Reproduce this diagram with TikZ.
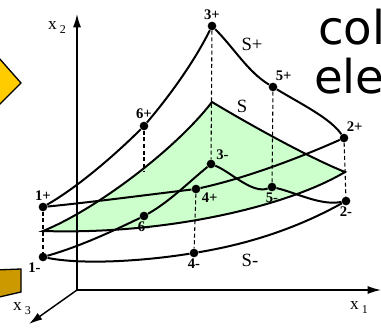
\documentclass[tikz,border=0pt]{standalone}
\usepackage{fontspec}
\setmainfont{Liberation Serif}
\newfontfamily\slidefont{DejaVu Sans}
\usetikzlibrary{arrows.meta}
\definecolor{Mint}{HTML}{CCFFCC}
\definecolor{Gold}{HTML}{FFCC00}
\definecolor{Ochre}{HTML}{CC9900}

\begin{document}
\begin{tikzpicture}[x=0.75pt, y=-0.75pt,
    dot/.style={circle, fill=black, inner sep=0pt, minimum size=6.5pt},
    num/.style={font=\fontsize{11}{11}\selectfont\bfseries, inner sep=1pt},
    surf/.style={font=\fontsize{14}{14}\selectfont, inner sep=0pt},
    axlab/.style={font=\fontsize{13}{13}\selectfont, inner sep=0pt},
    big/.style={font=\slidefont\fontsize{35}{35}\selectfont, anchor=base west, inner sep=0pt},
    axis/.style={-{Latex[length=10pt,width=6pt]}, line width=1.1pt},
    edge/.style={line width=1.5pt},
    guide/.style={line width=0.8pt, dash pattern=on 3pt off 2pt},
    every label/.style={num}
]
\clip (0,0) rectangle (381,328);

\filldraw[fill=Gold, line width=1pt] (21,83) -- (-9,49) -- (-40,83) -- (-9,113) -- cycle;
\filldraw[fill=Ochre, line width=1pt] (-5,270) -- (21,269) -- (21,292) -- (-5,298) -- cycle;
\node[big] (col) at (318,45) {col};
\node[big] (ele) at (314,93) {ele};

\coordinate (sL) at (43,231);
\coordinate (sT) at (212,102);
\coordinate (sR) at (345,172);
\coordinate (s6) at (144,172);
\draw[edge, fill=Mint] (sL) .. controls (95,210) and (175,150) .. (sT)
    .. controls +(40,24) and +(-35,-14) .. (sR)
    .. controls (290,205) and (170,235) .. (sL) -- cycle;

\coordinate (o) at (77,290);
\coordinate (t1) at (381,290);
\coordinate (t2) at (77,14);
\coordinate (t3) at (29,324);
\draw[axis] (o) -- (t1);
\draw[axis] (o) -- (t2);
\draw[axis] (o) -- (t3);
\node[axlab] (lx1) at (359,308) {x\,\raisebox{-3pt}{\small 1}};
\node[axlab] (lx2) at (57,28) {x\,\raisebox{-3pt}{\small 2}};
\node[axlab] (lx3) at (22,309) {x\,\raisebox{-3pt}{\small 3}};

\node[dot, label=above:3+] (p3p) at (212,26) {};
\node[dot, label=75:5+] (p5p) at (273,87) {};
\node[dot, label=75:2+] (p2p) at (344,138) {};
\node[dot, label={[yshift=1pt]above:6+}] (p6p) at (144,126) {};
\node[dot, label=above:1+] (p1p) at (43,207) {};
\node[dot, label=-100:1-] (p1m) at (43,257) {};
\node[dot, label=below:6-] (p6m) at (144,216) {};
\node[dot, label=-25:4+] (p4p) at (196,189) {};
\node[dot, label=35:3-] (p3m) at (211,164) {};
\node[dot, label=below:5-] (p5m) at (272,187) {};
\node[dot, label=below:2-] (p2m) at (346,201) {};
\node[dot, label=below:4-] (p4m) at (194,253) {};

\draw[guide] (p1p) -- (p1m);
\draw[guide] (p6p) -- (s6);
\draw[guide] (p3p) -- (p3m);
\draw[guide] (p5p) -- (p5m);
\draw[guide] (p2p) -- (p2m);
\draw[guide] (p4p) -- (p4m);

\draw[edge] (p1p) .. controls +(35,-20) and +(-28,28) .. (p6p)
    .. controls +(22,-26) and +(-20,40) .. (p3p);
\draw[edge] (p3p) .. controls +(22,22) and +(-25,-15) .. (p5p)
    .. controls +(28,17) and +(-14,-20) .. (p2p);
\draw[edge] (p1p) .. controls +(50,-5) and +(-50,6) .. (p4p)
    .. controls +(50,-11) and +(-45,20) .. (p2p);
\draw[edge] (p1m) .. controls +(35,-10) and +(-35,17) .. (p6m)
    .. controls +(25,-14) and +(-22,18) .. (p3m);
\draw[edge] (p3m) .. controls +(20,8) and +(-20,7) .. (p5m)
    .. controls +(25,6) and +(-25,5) .. (p2m);
\draw[edge] (p1m) .. controls +(40,8) and +(-50,8) .. (p4m)
    .. controls +(60,-10) and +(-45,25) .. (p2m);

\node[surf] (lsp) at (252,44) {S+};
\node[surf] (ls) at (242,106) {S};
\node[surf] (lsm) at (250,260) {S-};
\end{tikzpicture}
\end{document}
